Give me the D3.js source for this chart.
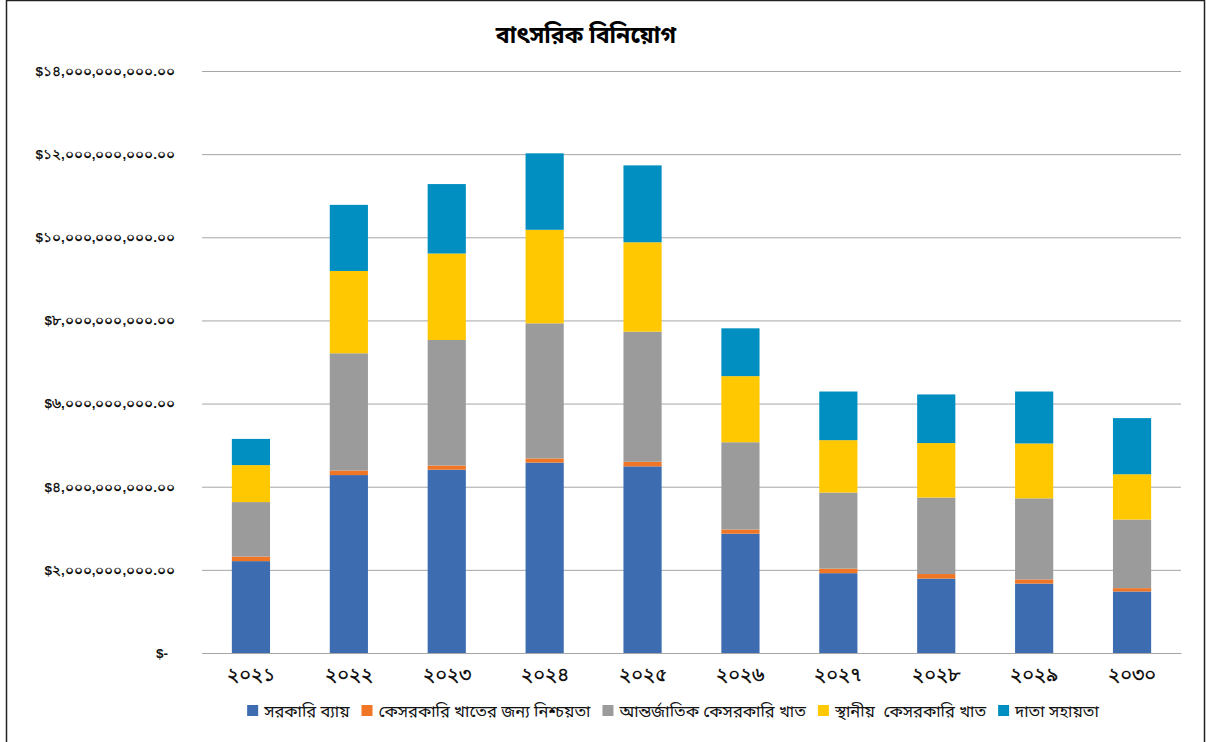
<!DOCTYPE html>
<html>
<head>
<meta charset="utf-8">
<script src="https://cdn.jsdelivr.net/npm/d3@7"></script>
<style>
  html, body { margin: 0; padding: 0; background: #fff; }
  svg { display: block; font-family: "Noto Sans Bengali", "Lohit Bengali", "Noto Sans", "DejaVu Sans", sans-serif; }
</style>
</head>
<body>
<svg id="chart" width="1206" height="742"></svg>
<script>
// Years (x categories)
const years = ["2021", "2022", "2023", "2024", "2025", "2026", "2027", "2028", "2029", "2030"];

// Series names, in stacking order (bottom to top)
const seriesNames = [
  "সরকারি ব্যায়",
  "কেসরকারি খাতের জন্য নিশ্চয়তা",
  "আন্তর্জাতিক কেসরকারি খাত",
  "স্থানীয়  কেসরকারি খাত",
  "দাতা সহায়তা"
];

// Annual values, in billions of US dollars
const govSpending        = [2.21, 4.28, 4.41, 4.58, 4.49, 2.87, 1.92, 1.79, 1.67, 1.48];
const privateGuarantee   = [0.11, 0.11, 0.10, 0.10, 0.11, 0.10, 0.11, 0.11, 0.10, 0.08];
const intlPrivate        = [1.31, 2.82, 3.02, 3.25, 3.13, 2.10, 1.83, 1.84, 1.95, 1.65];
const localPrivate       = [0.89, 1.98, 2.08, 2.25, 2.15, 1.59, 1.26, 1.31, 1.32, 1.09];
const donorAid           = [0.63, 1.59, 1.67, 1.84, 1.85, 1.15, 1.17, 1.17, 1.25, 1.35];

// Y-axis tick values (billions)
const yTicks = [0, 2, 4, 6, 8, 10, 12, 14];

const colors = ["#3d6cb0", "#f07524", "#9b9b9b", "#ffc800", "#008fc0"];

const seriesValues = [govSpending, privateGuarantee, intlPrivate, localPrivate, donorAid];

const bnDigits = "০১২৩৪৫৬৭৮৯";
const toBn = s => String(s).replace(/[0-9]/g, d => bnDigits[+d]);

// Build rows for the stack layout
const keys = seriesNames.map((_, i) => "s" + i);
const rows = years.map((y, j) => {
  const r = { year: y };
  keys.forEach((k, i) => { r[k] = seriesValues[i][j] * 1e9; });
  return r;
});

const svg = d3.select("#chart");
const W = 1206, H = 742;
const margin = { left: 202, right: 25, top: 71, bottom: 89 };

// outer frame
svg.append("rect")
  .attr("x", 6.5).attr("y", 0.5)
  .attr("width", 1198).attr("height", 780)
  .attr("fill", "none").attr("stroke", "#222").attr("stroke-width", 1.5);

const x = d3.scaleBand()
  .domain(years)
  .range([margin.left, W - margin.right])
  .paddingInner(0.61)
  .paddingOuter(0.305);

const y = d3.scaleLinear()
  .domain([0, 14e9])
  .range([H - margin.bottom, margin.top]);

// gridlines
const grid = svg.append("g")
  .attr("transform", `translate(${margin.left},0)`)
  .call(d3.axisLeft(y)
    .tickValues(yTicks.map(v => v * 1e9))
    .tickSize(-(W - margin.left - margin.right))
    .tickFormat(""));
grid.select(".domain").remove();
grid.selectAll(".tick line").attr("stroke", "#a6a6a6").attr("stroke-width", 1);

// y-axis labels
const fmt = d3.format(",.2f");
const yAxis = svg.append("g")
  .attr("transform", `translate(${margin.left - 27},0)`)
  .call(d3.axisLeft(y)
    .tickValues(yTicks.map(v => v * 1e9))
    .tickSize(0)
    .tickPadding(0)
    .tickFormat(v => v === 0 ? "$-" : "$" + toBn(fmt(v))));
yAxis.select(".domain").remove();
yAxis.selectAll("text")
  .attr("font-size", 13.5)
  .attr("font-weight", "bold")
  .attr("fill", "#111")
  .style("font-family", "inherit");
yAxis.selectAll(".tick").filter(d => d === 0).select("text").attr("dx", -7);

// stacked bars
const stacked = d3.stack().keys(keys)(rows);
svg.append("g")
  .selectAll("g")
  .data(stacked)
  .join("g")
  .attr("fill", (d, i) => colors[i])
  .selectAll("rect")
  .data(d => d)
  .join("rect")
  .attr("x", d => x(d.data.year))
  .attr("y", d => y(d[1]))
  .attr("height", d => y(d[0]) - y(d[1]))
  .attr("width", x.bandwidth());

// x axis
const xAxis = svg.append("g")
  .attr("transform", `translate(0,${H - margin.bottom})`)
  .call(d3.axisBottom(x).tickSize(0).tickPadding(15).tickFormat(toBn));
xAxis.select(".domain").attr("stroke", "#a6a6a6");
xAxis.selectAll("text")
  .attr("font-size", 18.5)
  .attr("font-weight", "bold")
  .attr("fill", "#111")
  .style("font-family", "inherit");

// title
svg.append("text")
  .attr("x", 586).attr("y", 43)
  .attr("text-anchor", "middle")
  .attr("font-size", 23)
  .attr("font-weight", "bold")
  .attr("fill", "#000")
  .text("বাৎসরিক বিনিয়োগ");

// legend
const legend = svg.append("g").attr("transform", "translate(0,715)");
const items = legend.selectAll("g")
  .data(seriesNames)
  .join("g");
items.append("rect")
  .attr("width", 11).attr("height", 11)
  .attr("y", -10)
  .attr("fill", (d, i) => colors[i]);
items.append("text")
  .attr("x", 17)
  .attr("y", 0)
  .attr("dy", "0.1em")
  .attr("font-size", 16.5)
  .attr("fill", "#111")
  .attr("xml:space", "preserve")
  .style("white-space", "pre")
  .text(d => d);

let cursor = 0;
const offsets = [];
items.each(function () {
  offsets.push(cursor);
  cursor += 17 + this.querySelector("text").getComputedTextLength() + 12;
});
const total = cursor - 12;
const startX = 673 - total / 2;
items.attr("transform", (d, i) => `translate(${startX + offsets[i]},0)`);
</script>
</body>
</html>
